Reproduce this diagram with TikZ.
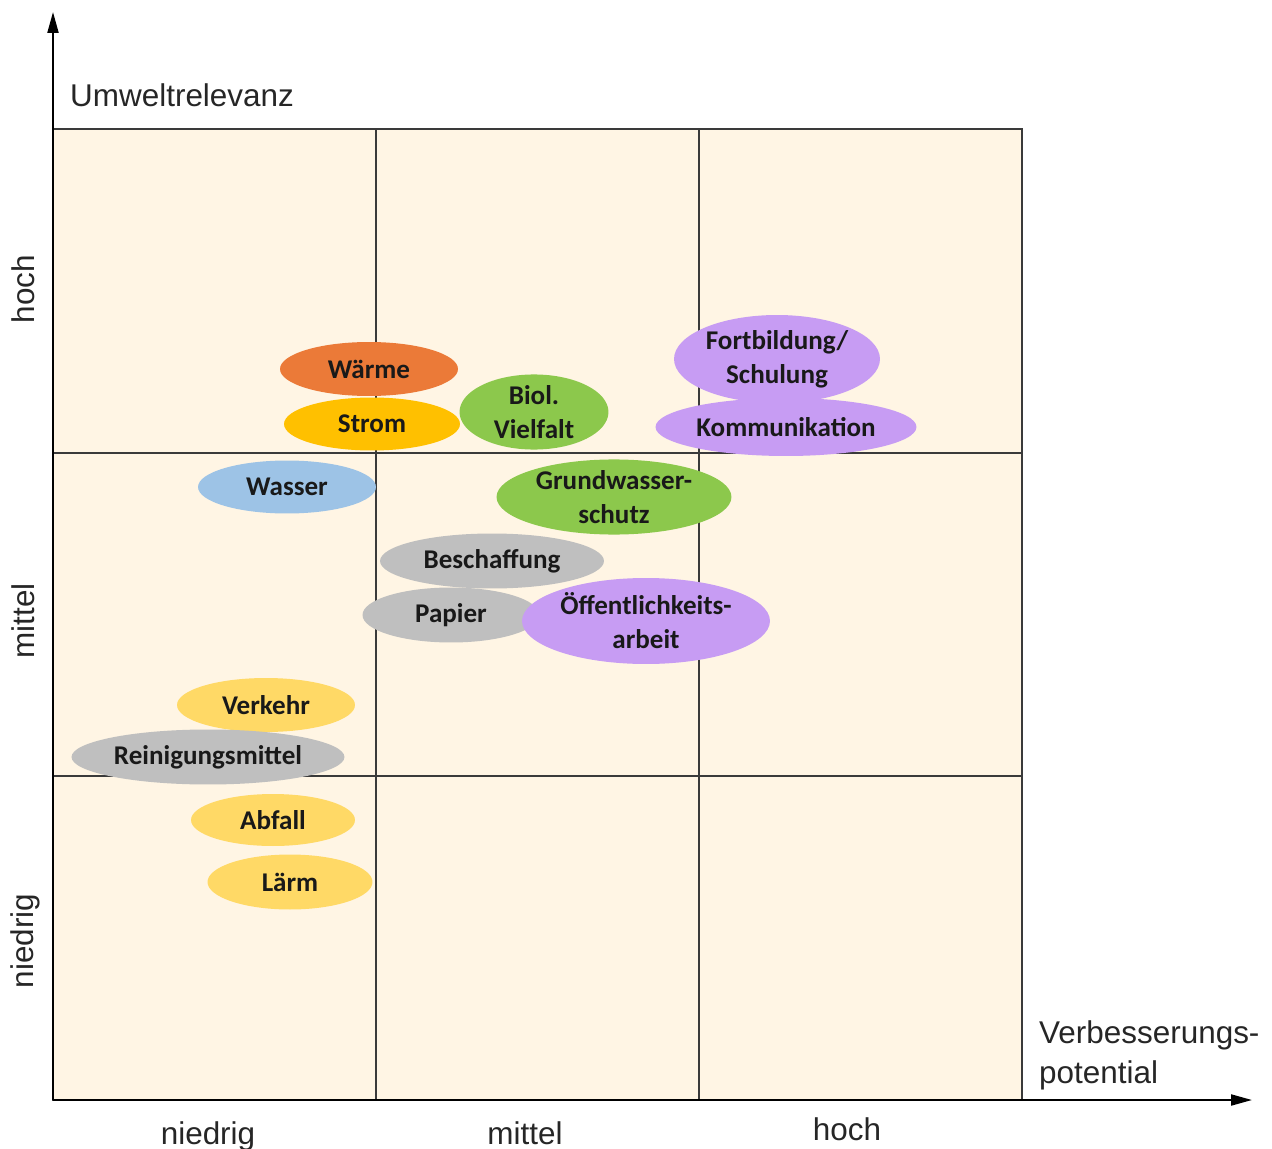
\documentclass[tikz,border=0pt]{standalone}
\usepackage{fontspec}
\setmainfont{Liberation Sans}
\newfontfamily\carlito{Carlito}
\usetikzlibrary{arrows.meta,shapes.geometric}

\definecolor{creme}{HTML}{FFF5E4}
\definecolor{gitter}{HTML}{3A3A3A}
\definecolor{orangeW}{HTML}{EB7A38}
\definecolor{gelbS}{HTML}{FFC000}
\definecolor{gruen}{HTML}{8CC84C}
\definecolor{lila}{HTML}{C79CF3}
\definecolor{blau}{HTML}{9DC3E6}
\definecolor{grau}{HTML}{BFBFBF}
\definecolor{gelb}{HTML}{FFD966}

\tikzset{
  achse/.style={line width=1.2pt, -{Triangle[length=0.42cm,width=0.22cm]}},
  linie/.style={draw=gitter, line width=0.9pt},
  achstext/.style={text=black!85, font=\fontsize{17.9}{22.8}\selectfont},
  thema/.style={ellipse, inner sep=0pt, text=black!90, align=center,
    font=\carlito\bfseries\fontsize{15.4}{19.3}\selectfont},
}

\begin{document}
\begin{tikzpicture}[x=0.02cm, y=-0.02cm]
    \useasboundingbox (0,0) rectangle (1272,1149);
    % Felder
    \fill[creme] (53,129) rectangle (1022,1100);
    \draw[linie] (53,129) rectangle (1022,1100);
    \draw[linie] (376,129) -- (376,1100);
    \draw[linie] (699,129) -- (699,1100);
    \draw[linie] (53,453) -- (1022,453);
    \draw[linie] (53,776) -- (1022,776);
    % Achsen
    \coordinate (ursprung) at (53,1100);
    \coordinate (yende) at (53,12);
    \coordinate (xende) at (1252,1100);
    \draw[achse] (ursprung) -- (yende);
    \draw[achse] (ursprung) -- (xende);
    \node[achstext, anchor=west] (umwelt) at (64,95) {Umweltrelevanz};
    \node[achstext, anchor=west, align=left] (verbesserung) at (1033,1055) {Verbesserungs-\\potential};
    \node[achstext, anchor=base] (xniedrig) at (208,1144) {niedrig};
    \node[achstext, anchor=base] (xmittel) at (525,1144) {mittel};
    \node[achstext, anchor=base] (xhoch) at (847,1140) {hoch};
    \node[achstext, rotate=90] (yhoch) at (23,289) {hoch};
    \node[achstext, rotate=90] (ymittel) at (23,621) {mittel};
    \node[achstext, rotate=90] (yniedrig) at (25,941) {niedrig};
    % Themen
    \node[thema, fill=orangeW, minimum width=3.56cm, minimum height=1.08cm] (waerme) at (369,369) {W\"arme};
    \node[thema, fill=gelbS, minimum width=3.52cm, minimum height=1.06cm] (strom) at (372,424) {Strom};
    \node[thema, fill=gruen, minimum width=2.98cm, minimum height=1.40cm] (vielfalt) at (534,412) {Biol.\\Vielfalt};
    \node[thema, fill=lila, minimum width=4.12cm, minimum height=1.76cm] (fortbildung) at (777,359) {Fortbildung/\\Schulung};
    \node[thema, fill=lila, minimum width=5.22cm, minimum height=1.16cm] (kommunikation) at (786,427) {Kommunikation};
    \node[thema, fill=blau, minimum width=3.56cm, minimum height=1.06cm] (wasser) at (287,487) {Wasser};
    \node[thema, fill=gruen, minimum width=4.70cm, minimum height=1.48cm] (grundwasser) at (614,497) {Grundwasser-\\schutz};
    \node[thema, fill=grau, minimum width=4.48cm, minimum height=1.10cm] (beschaffung) at (492,561) {Beschaffung};
    \node[thema, fill=grau, minimum width=3.54cm, minimum height=1.10cm] (papier) at (451,615) {Papier};
    \node[thema, fill=lila, minimum width=4.96cm, minimum height=1.72cm] (oeffentlichkeit) at (646,621) {\"Offentlichkeits-\\arbeit};
    \node[thema, fill=gelb, minimum width=3.56cm, minimum height=1.08cm] (verkehr) at (266,705) {Verkehr};
    \node[thema, fill=grau, minimum width=5.46cm, minimum height=1.10cm] (reinigung) at (208,757) {Reinigungsmittel};
    \node[thema, fill=gelb, minimum width=3.28cm, minimum height=1.04cm] (abfall) at (273,820) {Abfall};
    \node[thema, fill=gelb, minimum width=3.30cm, minimum height=1.10cm] (laerm) at (290,882) {L\"arm};
\end{tikzpicture}
\end{document}
